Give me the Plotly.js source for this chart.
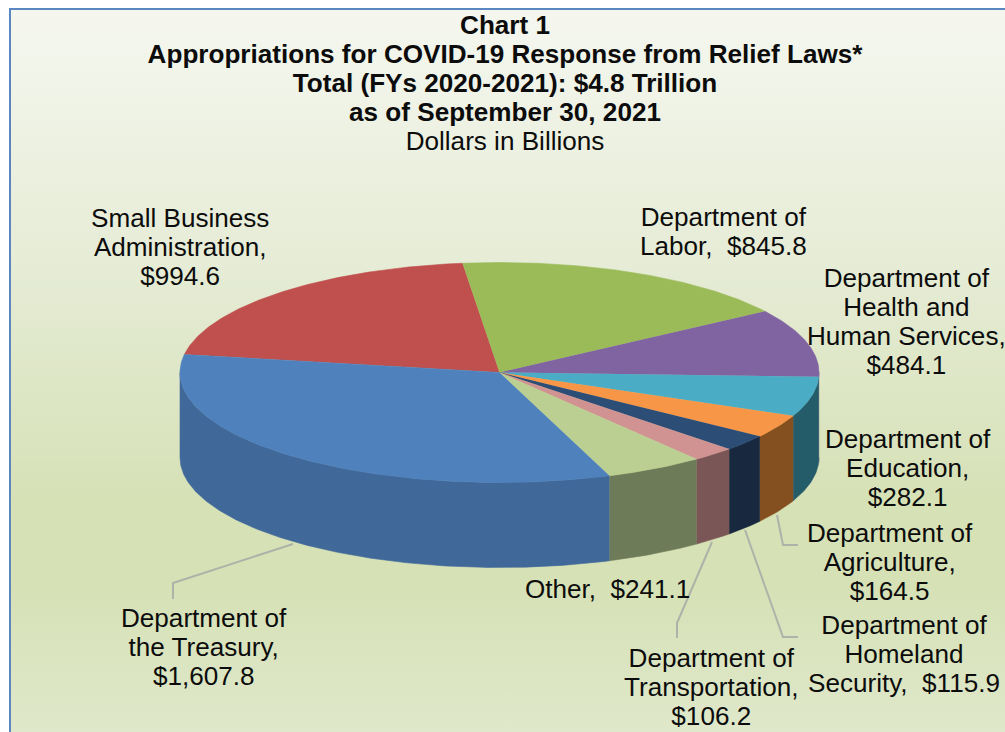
<!DOCTYPE html>
<html>
<head>
<meta charset="utf-8">
<script src="https://cdn.plot.ly/plotly-3.0.1.min.js"></script>
<style>
html,body{margin:0;padding:0;background:#fff;width:1005px;height:732px;overflow:hidden}
#panel{position:absolute;left:9px;top:8px;width:996px;height:724px;box-sizing:border-box;border-left:2px solid #5b87c0;border-top:2px solid #5b87c0;
background:linear-gradient(180deg,#f5f7ef 0%,#e6ecd6 35%,#d6e1b6 68%,#d6e1b6 80%,#dfe8ca 100%)}
#chart{position:absolute;left:0;top:0;width:1005px;height:732px}
</style>
</head>
<body>
<div id="panel"></div>
<div id="chart"></div>
<script>
// ---- data ----
var categories = ['Small Business Administration','Department of Labor','Department of Health and Human Services','Department of Education','Department of Agriculture','Department of Homeland Security','Department of Transportation','Other','Department of the Treasury'];
var values = [994.6,845.8,484.1,282.1,164.5,115.9,106.2,241.1,1607.8];
var topColors = ['#c0504d','#9bbb59','#8064a2','#4bacc6','#f79646','#2c4d75','#d19392','#bccf92','#4f81bd'];
var sideColors = ['#8c3a38','#71893f','#5d4977','#255c69','#85501f','#17283f','#7a5756','#6e7b58','#406899'];
var labelPrefix = ['Small Business<br>Administration,<br>','Department of<br>Labor,  ','Department of<br>Health and<br>Human Services,<br>','Department of<br>Education,<br>','Department of<br>Agriculture,<br>','Department of<br>Homeland<br>Security,  ','Department of<br>Transportation,<br>','Other,  ','Department of<br>the Treasury,<br>'];
var titleLines = ['<b>Chart 1</b>','<b>Appropriations for COVID-19 Response from Relief Laws*</b>','<b>Total (FYs 2020-2021): $4.8 Trillion</b>','<b>as of September 30, 2021</b>','Dollars in Billions'];

// ---- geometry of the drawing (chart units = px) ----
var cx = 499.5, cy = 372.5, rx = 319.5, ry = 110, depth = 85, startDeg = 170.6;
var labelX = [180,723,906,908,890,904,711,607,204];
var labelTop = [202,201,262,423,517,609,642,573,602];
var leaders = [
  [[777,783,798],[515,545,545]],
  [[745,783,798],[530,637,637]],
  [[712,677,677],[542,623,638]],
  [[293,173,173],[544,583,599]]
];
var FS = 26.1, LS = 22.3; // glyph size, line-step base (1.3em)

function pt(deg, dy){ var t = deg*Math.PI/180; return [cx+rx*Math.cos(t), cy-ry*Math.sin(t)+(dy||0)]; }
function arc(a,b,dy){ var n=Math.max(2,Math.ceil(Math.abs(a-b)*2)), out=[]; for(var i=0;i<=n;i++){ out.push(pt(a+(b-a)*i/n,dy)); } return out; }
function poly(points,color){
  return {type:'scatter',mode:'lines',x:points.map(function(p){return p[0];}),y:points.map(function(p){return p[1];}),
    fill:'toself',fillcolor:color,line:{color:color,width:0.6},hoverinfo:'skip',showlegend:false};
}
var total = values.reduce(function(a,b){return a+b;},0);
var traces = [];
leaders.forEach(function(l){ traces.push({type:'scatter',mode:'lines',x:l[0],y:l[1],line:{color:'#aeb2a8',width:2},hoverinfo:'skip',showlegend:false}); });
var bounds=[startDeg]; values.forEach(function(v,i){ bounds.push(bounds[i]-v/total*360); });
// side walls first (visible front half only)
values.forEach(function(v,i){
  var a=bounds[i], b=bounds[i+1];
  var segs = [[a,b],[a+360,b+360]];
  segs.forEach(function(s){
    var hi=Math.min(s[0],360), lo=Math.max(s[1],180);
    if(hi>lo){ traces.push(poly(arc(hi,lo,0).concat(arc(lo,hi,depth)),sideColors[i])); }
  });
});
// top faces
values.forEach(function(v,i){
  var p = arc(bounds[i],bounds[i+1],0); p.push([cx,cy]);
  var tr = poly(p,topColors[i]);
  tr.name = categories[i];
  tr.hoverinfo='text'; tr.text=categories[i]+': $'+v; tr.hoveron='fills';
  traces.push(tr);
});
function money(v){ return '$'+v.toLocaleString('en-US',{minimumFractionDigits:1,maximumFractionDigits:1}); }
function sized(html){ return html.split('<br>').map(function(s){return '<span style="font-size:'+FS+'px">'+s+'</span>';}).join('<br>'); }
var annotations = values.map(function(v,i){
  return {xref:'x',yref:'y',x:labelX[i],y:labelTop[i],xanchor:'center',yanchor:'top',align:'center',showarrow:false,
    text:sized(labelPrefix[i]+money(v)),font:{family:'Liberation Sans, Arial, sans-serif',size:LS,color:'#0c0c0c'},borderpad:0};
});
var layout = {
  width:1005,height:732,margin:{l:0,r:0,t:0,b:0},paper_bgcolor:'rgba(0,0,0,0)',plot_bgcolor:'rgba(0,0,0,0)',
  showlegend:false,dragmode:false,
  title:{text:sized(titleLines.join('<br>')),x:0.5025,xanchor:'center',y:0.954,yanchor:'top',font:{family:'Liberation Sans, Arial, sans-serif',size:LS,color:'#0c0c0c'}},
  xaxis:{range:[0,1005],visible:false,fixedrange:true},
  yaxis:{range:[732,0],visible:false,fixedrange:true},
  annotations:annotations
};
Plotly.newPlot('chart',traces,layout,{displayModeBar:false});
</script>
</body>
</html>
